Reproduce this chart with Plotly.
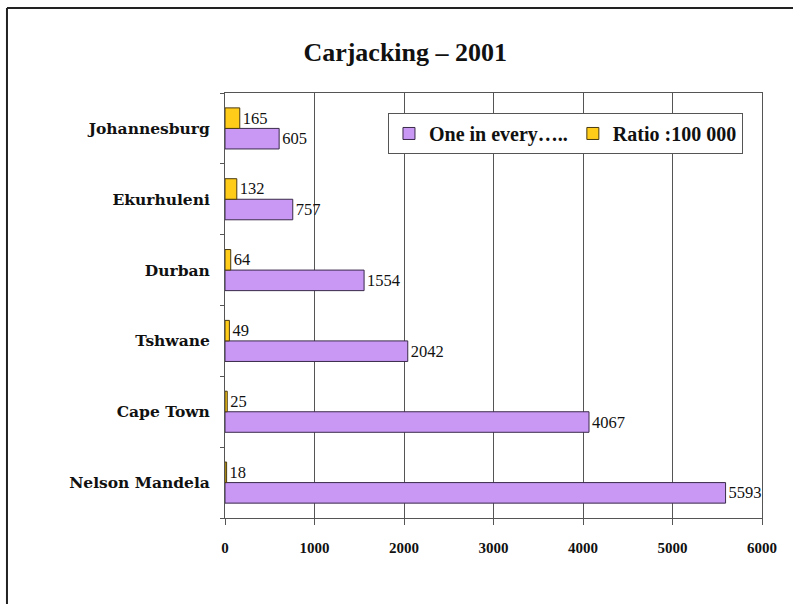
import plotly.graph_objects as go

# Cities listed bottom-to-top so Johannesburg ends up at the top of the axis
cities = ["Nelson Mandela", "Cape Town", "Tshwane", "Durban", "Ekurhuleni", "Johannesburg"]
one_in_every = [5593, 4067, 2042, 1554, 757, 605]
ratio_per_100k = [18, 25, 49, 64, 132, 165]

x_ticks = [0, 1000, 2000, 3000, 4000, 5000, 6000]

serif = "Liberation Serif, Times New Roman, serif"
wide_serif = "DejaVu Serif, serif"

fig = go.Figure()
fig.add_trace(go.Bar(
    y=cities, x=one_in_every, orientation="h", name="One in every…..",
    marker=dict(color="#C898F4", line=dict(color="#3a2a4a", width=1)),
    text=one_in_every, textposition="outside", cliponaxis=False,
    textfont=dict(family=serif, size=16.5, color="#111"),
))
fig.add_trace(go.Bar(
    y=cities, x=ratio_per_100k, orientation="h", name="Ratio :100 000",
    marker=dict(color="#FFCC1A", line=dict(color="#4a3a10", width=1)),
    text=ratio_per_100k, textposition="outside", cliponaxis=False,
    textfont=dict(family=serif, size=16.5, color="#111"),
))

fig.update_layout(
    width=793, height=604,
    margin=dict(l=225, r=31, t=93, b=86),
    paper_bgcolor="white", plot_bgcolor="white",
    barmode="group", bargap=0.42, bargroupgap=0,
    title=dict(text="<b>Carjacking – 2001</b>", x=0.511, xanchor="center",
               y=0.914, yanchor="middle",
               font=dict(family=serif, size=26, color="#111")),
    legend=dict(orientation="h", x=0.3035, y=0.953, xanchor="left", yanchor="top",
                bgcolor="white", bordercolor="#555", borderwidth=1,
                font=dict(family=serif, size=20, color="#111", weight="bold"),
                itemwidth=30, traceorder="normal", tracegroupgap=0),
    xaxis=dict(range=[0, 6000], tickvals=x_ticks, ticktext=[str(v) for v in x_ticks],
               showgrid=True, gridcolor="#555", gridwidth=1,
               showline=True, linecolor="#555", linewidth=1, mirror=True,
               ticks="outside", ticklen=6, tickcolor="#555",
               ticklabelstandoff=10,
               tickfont=dict(family=serif, size=15, color="#111", weight="bold"),
               zeroline=False, fixedrange=True),
    yaxis=dict(categoryorder="array", categoryarray=cities,
               showline=True, linecolor="#555", linewidth=1, mirror=True,
               ticks="outside", ticklen=4, tickcolor="#555", tickson="boundaries",
               ticklabelstandoff=11,
               tickfont=dict(family=wide_serif, size=15.5, color="#111", weight="bold"),
               showgrid=False, fixedrange=True),
    showlegend=True,
)

# Outer frame along the top and left edges of the page
fig.add_shape(type="line", xref="paper", yref="paper",
              x0=-0.406, x1=1.06, y0=1.2, y1=1.2,
              line=dict(color="#222", width=2))
fig.add_shape(type="line", xref="paper", yref="paper",
              x0=-0.406, x1=-0.406, y0=1.2, y1=-0.21,
              line=dict(color="#222", width=2))

fig.write_html("out.html")
